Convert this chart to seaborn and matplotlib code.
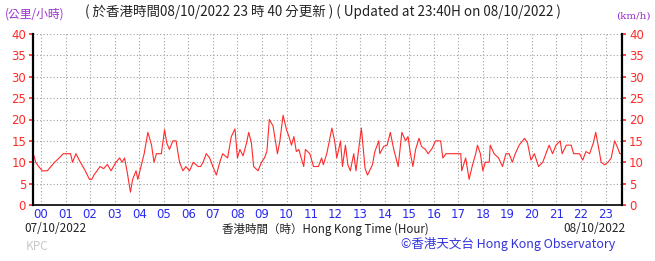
#!/usr/bin/env python3

import numpy as np
import pandas as pd
import matplotlib
matplotlib.use("Agg")
import matplotlib.pyplot as plt
import seaborn as sns

# wind speed trace, hours since 00:00 08/10 (starts 23:40 07/10)
hours = [-0.33, -0.29, -0.22, -0.1, 0.05, 0.25, 0.4, 0.55, 0.74, 0.9, 1.2, 1.28, 1.35, 1.42, 1.6,
         1.8, 1.97, 2.07, 2.15, 2.28, 2.4, 2.55, 2.7, 2.85, 3.05, 3.2, 3.3, 3.4, 3.5, 3.64,
         3.73, 3.87, 3.94, 4.07, 4.2, 4.35, 4.5, 4.6, 4.7, 4.9, 5.03, 5.12, 5.23, 5.37, 5.5,
         5.64, 5.78, 5.9, 6.05, 6.2, 6.4, 6.5, 6.6, 6.73, 6.87, 7.0, 7.14, 7.28, 7.4, 7.6,
         7.75, 7.9, 8.0, 8.1, 8.23, 8.37, 8.46, 8.57, 8.66, 8.84, 8.98, 9.1, 9.2, 9.3, 9.45,
         9.63, 9.73, 9.86, 10.0, 10.1, 10.2, 10.3, 10.4, 10.5, 10.7, 10.77, 10.95, 11.1, 11.3, 11.43,
         11.5, 11.64, 11.85, 11.96, 12.05, 12.2, 12.28, 12.4, 12.5, 12.6, 12.74, 12.83, 13.05, 13.2, 13.3,
         13.5, 13.6, 13.76, 13.8, 13.96, 14.1, 14.23, 14.37, 14.55, 14.7, 14.85, 14.95, 15.05, 15.15, 15.26,
         15.4, 15.5, 15.66, 15.77, 15.94, 16.07, 16.28, 16.37, 16.5, 17.1, 17.14, 17.3, 17.44, 17.58, 17.71,
         17.78, 17.9, 18.0, 18.1, 18.26, 18.3, 18.46, 18.64, 18.8, 18.94, 19.07, 19.2, 19.32, 19.48, 19.7,
         19.82, 19.96, 20.1, 20.27, 20.44, 20.57, 20.7, 20.84, 20.98, 21.15, 21.23, 21.4, 21.6, 21.7, 21.94,
         22.07, 22.2, 22.35, 22.5, 22.6, 22.73, 22.82, 22.96, 23.1, 23.23, 23.37, 23.5, 23.58, 23.67]
speed = [12, 11.5, 10, 9, 8, 8, 9, 10, 11, 12, 12, 10, 11, 12, 10,
         8, 6, 6, 7, 8, 9, 8.5, 9.5, 8, 10, 11, 10, 11, 8, 3,
         6, 8, 6, 9, 12, 17, 14, 10, 12, 12, 17.6, 14.5, 13, 15, 15,
         10, 8, 9, 8, 10, 9, 9, 10, 12, 11, 9, 7, 10, 12, 11,
         16, 17.8, 11, 13, 11.5, 14.5, 17, 14.5, 9, 8, 10, 11, 12.5, 20, 18.5,
         12, 15, 21, 17.6, 16, 14, 16, 12.5, 13, 9, 13, 12, 9, 9, 11,
         9.4, 12, 18, 15, 11, 15, 9, 14, 9.4, 8, 12, 8, 18, 8.6, 7,
         9.4, 12.5, 15, 12, 13.7, 14, 17, 13, 9, 17, 15, 16, 12, 9, 13,
         15.6, 13.7, 13, 12, 13.3, 15, 15, 11, 12, 12, 8, 11, 6, 9.4, 12,
         14, 12, 8, 10, 10, 14, 12, 11, 9, 12, 12, 10, 12, 14, 15.6,
         14.5, 10.5, 12, 9, 10, 12, 14, 12, 14, 15, 12, 14, 14, 12, 12,
         10.5, 12.5, 12, 14.5, 17, 13, 10, 9.4, 10, 11, 15, 13.3, 12, 12]

xticks = list(range(24))
xtick_labels = [f"{h:02d}" for h in xticks]
yticks = list(range(0, 45, 5))

df = pd.DataFrame({"hour": hours, "speed": speed})

sns.set_style("white")
plt.rcParams["font.family"] = ["Noto Sans CJK TC", "DejaVu Sans"]

fig = plt.figure(figsize=(6.55, 2.61), dpi=100)
ax = fig.add_axes([33 / 655, 1 - 205 / 261, 589 / 655, 171 / 261])

sns.lineplot(data=df, x="hour", y="speed", ax=ax, color="#ff2a2a", lw=0.8, estimator=None, sort=False)

ax.set_xlim(-0.33, 23.67)
ax.set_ylim(0, 40)
ax.set_xticks(xticks)
ax.set_xticklabels(xtick_labels, color="#2a2aee", fontsize=8.5, family="DejaVu Sans")
ax.set_xticks(np.arange(-0.33, 23.67, 1 / 3), minor=True)
ax.set_yticks(yticks)
ax.tick_params(axis="y", colors="#ff2a2a", labelsize=8.5, length=3, width=1.2,
               labelleft=True, labelright=True, left=True, right=True, direction="out", pad=2)
ax.tick_params(axis="x", which="major", length=2, width=1, direction="out", pad=0, color="black")
ax.tick_params(axis="x", which="minor", length=1.5, width=0.6, direction="out", color="black")
for lbl in ax.get_yticklabels():
    lbl.set_family("Liberation Sans Narrow")
ax.set_xlabel("")
ax.set_ylabel("")

ax.grid(True, which="major", color="#a0a0a0", linestyle=(0, (1, 2)), lw=0.8)
ax.spines["top"].set_visible(False)
for s in ["left", "right", "bottom"]:
    ax.spines[s].set_color("black")
ax.spines["left"].set_linewidth(1.6)
ax.spines["right"].set_linewidth(1.6)
ax.spines["bottom"].set_linewidth(1.2)

fig.text(5 / 655, 1 - 14 / 261, "(公里/小時)", color="#9933cc", fontsize=8.5, va="center")
fig.text(85 / 655, 1 - 12 / 261, "( 於香港時間08/10/2022 23 時 40 分更新 ) ( Updated at 23:40H on 08/10/2022 )",
         color="#222222", fontsize=9.7, va="center")
fig.text(651 / 655, 1 - 16 / 261, "(km/h)", color="#9933cc", fontsize=7.5, va="center", ha="right",
         family="DejaVu Serif")
fig.text(24 / 655, 1 - 229 / 261, "07/10/2022", color="#222222", fontsize=8.5, va="center")
fig.text(325 / 655, 1 - 229 / 261, "香港時間（時）Hong Kong Time (Hour)", color="#222222", fontsize=8.3,
         va="center", ha="center")
fig.text(625 / 655, 1 - 229 / 261, "08/10/2022", color="#222222", fontsize=8.5, va="center", ha="right")
fig.text(26 / 655, 1 - 246 / 261, "KPC", color="#c8c8c8", fontsize=8.5, va="center")
fig.text(615 / 655, 1 - 244 / 261, "©香港天文台 Hong Kong Observatory", color="#3333dd", fontsize=9,
         va="center", ha="right")

plt.savefig("out.png", dpi=100)
plt.close()
